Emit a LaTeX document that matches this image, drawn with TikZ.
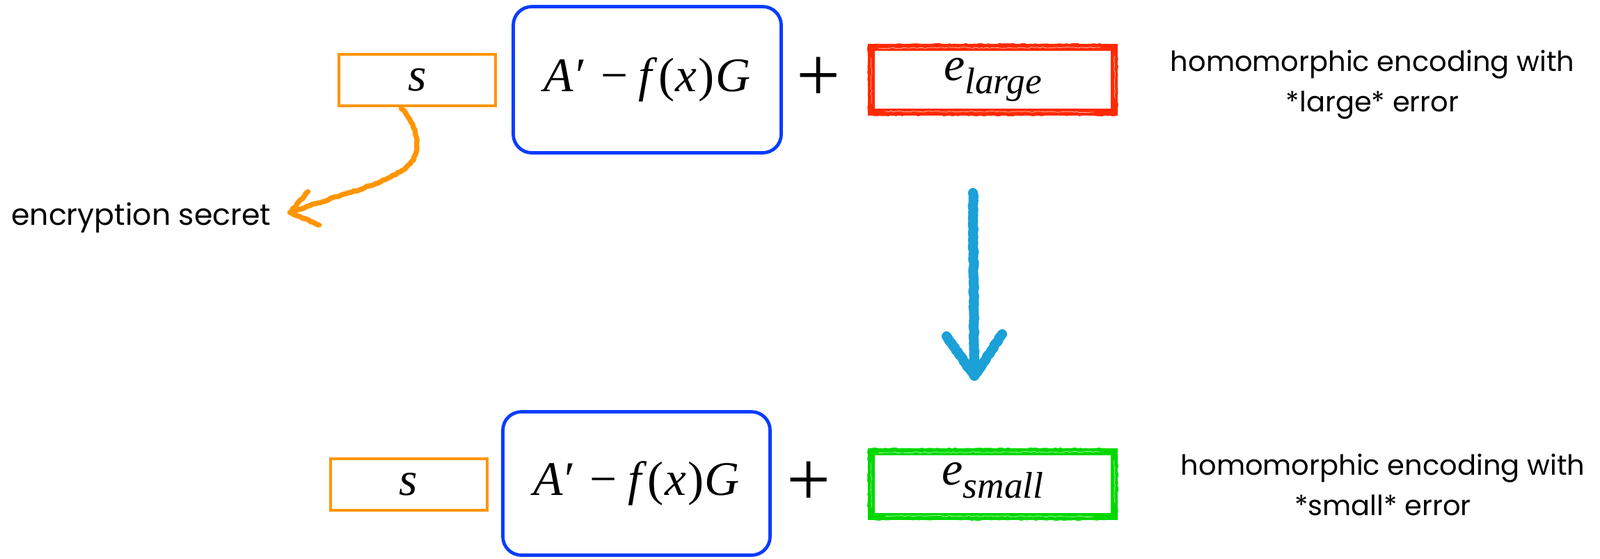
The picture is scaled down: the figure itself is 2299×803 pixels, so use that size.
\documentclass[tikz,border=0pt]{standalone}
\usepackage{fontspec}
\setmainfont{Liberation Serif}
\newfontfamily\handfont{Poppins}
\usetikzlibrary{calc,decorations.pathmorphing}
\definecolor{sorange}{HTML}{FF9500}
\definecolor{kblue}{HTML}{0A3CFF}
\definecolor{lred}{HTML}{FF2A00}
\definecolor{sgreen}{HTML}{00D800}
\definecolor{abblue}{HTML}{1BA0D8}
\newcommand\mfont{\fontsize{52}{52}\selectfont}
\newcommand\expr{\textit{A}\kern0.04em′\hspace{0.3em}−\hspace{0.22em}\textit{f}\kern0.02em(\kern0.02em\textit{x}\kern0.03em)\kern0.02em\textit{G}}
\newcommand\errterm[1]{\textit{e}\raisebox{-14.25pt}{\fontsize{40}{40}\selectfont\itshape #1\vphantom{g}}}
\begin{document}
\begin{tikzpicture}[x=0.75pt,y=-0.75pt,
  secret/.style={draw=sorange, line width=3pt, minimum width=168.75pt, minimum height=55.5pt, inner sep=0pt, font=\fontsize{51}{51}\selectfont\itshape},
  keybox/.style={draw=kblue, line width=3.6pt, rounded corners=20pt, inner sep=0pt, font=\mfont},
  errbox/.style={line width=7.5pt, outer sep=0pt, minimum width=261.75pt, minimum height=69.75pt, inner sep=0pt, font=\fontsize{51}{51}\selectfont},
  plussign/.style={font=\fontsize{84}{84}\selectfont, inner sep=0pt},
  note/.style={font=\handfont\fontsize{30}{30}\selectfont, inner sep=0pt, anchor=base},
  brush/.style={decorate, decoration={random steps, segment length=3pt, amplitude=0.7pt}, line cap=round, line join=round},
]
\useasboundingbox (0,0) rectangle (2299,803);

% top row
\node[secret] (sT) at (599.5,115) {s};
\node[keybox, minimum width=288.75pt, minimum height=157.5pt] (kT) at (930,114.5) {\expr\hspace{15pt}};
\node[plussign] (pT) at (1176,114) {+};
\node[errbox, draw=lred] (eT) at (1426.5,114.5) {\errterm{large}};
\node[note] (nT1) at (1972,102) {homomorphic encoding with};
\node[note] (nT2) at (1972,160) {*large* error};

% bottom row
\node[secret] (sB) at (587,696) {s};
\node[keybox, minimum width=288pt, minimum height=154.5pt] (kB) at (914.5,694.5) {\expr\hspace{15pt}};
\node[plussign] (pB) at (1162,695) {+};
\node[errbox, draw=sgreen] (eB) at (1426.5,695.5) {\errterm{small}};
\node[note] (nB1) at (1987,682) {homomorphic encoding with};
\node[note] (nB2) at (1987,740) {*small* error};

% brush texture on error boxes (ragged edges and light streaks)
\foreach \n/\c in {eT/lred, eB/sgreen}{
  \draw[\c, line width=1.8pt, brush] ($(\n.north west)+(-4,-4)$) -- ($(\n.north east)+(-12,-4)$);
  \draw[\c, line width=1.8pt, brush] ($(\n.south west)+(-4,4)$) -- ($(\n.south east)+(4,4)$);
  \draw[\c, line width=1.8pt, brush] ($(\n.north west)+(-4,-3)$) -- ($(\n.south west)+(-4,3)$);
  \draw[\c, line width=1.8pt, brush] ($(\n.north east)+(4,4)$) -- ($(\n.south east)+(4,3)$);
  \draw[white, line width=0.5pt, brush, opacity=0.8] ($(\n.north west)+(10,1)$) -- ($(\n.north east)+(-20,0)$);
  \draw[white, line width=0.5pt, brush, opacity=0.8] ($(\n.south west)+(20,-1)$) -- ($(\n.south east)+(-30,0)$);
  \draw[white, line width=0.5pt, brush, opacity=0.8] ($(\n.north east)+(0,12)$) -- ($(\n.south east)+(1,-20)$);
  \draw[white, line width=0.4pt, brush, opacity=0.7] ($(\n.north west)+(0,15)$) -- ($(\n.south west)+(0,-12)$);
}

% encryption secret label and orange arrow
\node[note, anchor=base west, font=\handfont\fontsize{32}{32}\selectfont] (enc) at (16,323) {encryption secret};
\coordinate (tipO) at ($(enc.east)+(27,-7)$);
\draw[sorange, line width=5.5pt, brush] ($(sT.south)+(-23,2)$) .. controls (600,180) and (610,222) .. (582,242) .. controls (545,268) and (480,282) .. (tipO);
\draw[sorange, line width=5.5pt, brush] ($(tipO)+(26,-30)$) -- (tipO) -- ($(tipO)+(42,18)$);

% blue transformation arrow
\coordinate (bA) at (1398,277);
\coordinate (bZ) at (1400,540);
\draw[abblue, line width=10.5pt, brush] (bA) -- (bZ);
\draw[abblue, line width=10.5pt, brush] ($(bZ)+(-40,-57)$) -- (bZ) -- ($(bZ)+(40,-60)$);
\end{tikzpicture}
\end{document}
